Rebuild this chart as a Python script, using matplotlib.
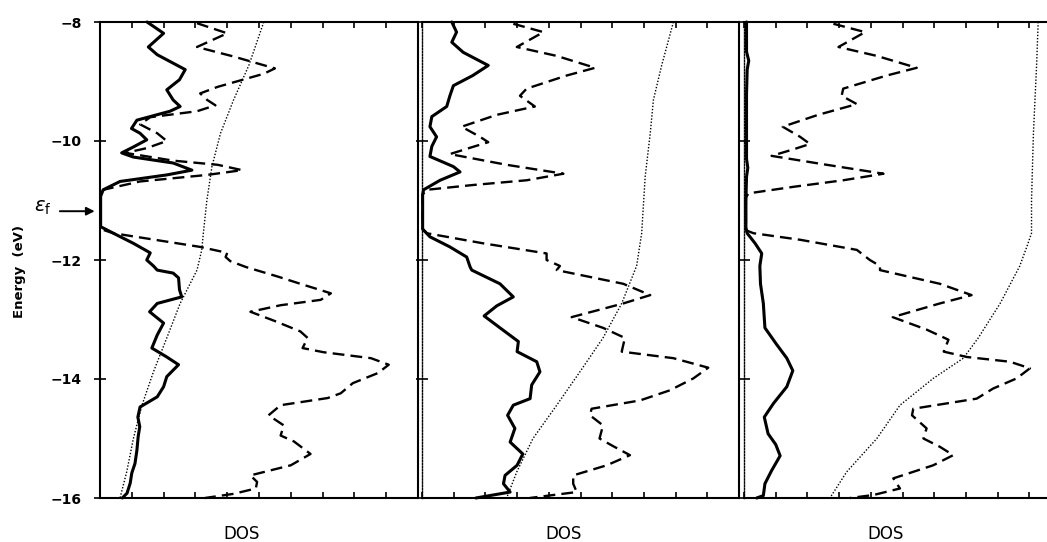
import matplotlib
matplotlib.use("Agg")
import matplotlib.pyplot as plt

plt.rcParams["font.family"] = ["DejaVu Sans"]
plt.rcParams["mathtext.fontset"] = "dejavusans"

# energy axis (eV)
energy_ticks = [-8, -10, -12, -14, -16]
e_fermi = -11.18

# ---- panel 1 ----
p1_solid_e = [-8.0, -8.19, -8.42, -8.55, -8.8, -8.97, -9.14, -9.31, -9.42, -9.5, -9.65, -9.79,
              -9.87, -9.98, -10.1, -10.2, -10.27, -10.37, -10.49, -10.57, -10.68, -10.82, -10.93,
              -11.44, -11.55, -11.72, -11.88, -12.0, -12.1, -12.17, -12.22, -12.3, -12.5, -12.62,
              -12.73, -12.87, -13.06, -13.26, -13.48, -13.63, -13.76, -13.96, -14.13, -14.3,
              -14.47, -14.64, -14.8, -14.97, -15.2, -15.42, -15.58, -15.75, -15.92, -16.0]
p1_solid_dos = [1.48, 2.0, 1.52, 1.8, 2.68, 2.5, 2.1, 2.3, 2.52, 2.2, 1.16, 0.99,
                1.26, 1.47, 1.05, 0.68, 1.05, 2.3, 2.89, 2.1, 0.63, 0.1, 0.02,
                0.02, 0.42, 1.05, 1.58, 1.47, 1.68, 1.8, 2.3, 2.47, 2.5, 2.57,
                1.8, 1.56, 2.0, 1.8, 1.63, 2.1, 2.47, 2.1, 2.0, 1.8,
                1.26, 1.19, 1.25, 1.2, 1.16, 1.1, 1.0, 0.95, 0.85, 0.7]

p1_dash_e = [-8.02, -8.19, -8.42, -8.58, -8.78, -8.87, -9.09, -9.2, -9.31, -9.4, -9.5, -9.6,
             -9.72, -9.87, -10.0, -10.12, -10.2, -10.33, -10.4, -10.49, -10.57, -10.68, -10.82,
             -10.9, -11.48, -11.55, -11.78, -11.88, -11.95, -12.02, -12.12, -12.28, -12.4,
             -12.56, -12.67, -12.76, -12.87, -13.02, -13.2, -13.31, -13.48, -13.55, -13.65,
             -13.76, -13.9, -14.07, -14.24, -14.32, -14.44, -14.61, -14.78, -14.95, -15.05,
             -15.26, -15.45, -15.62, -15.73, -15.84, -15.93, -16.0]
p1_dash_dos = [3.05, 4.0, 3.05, 4.2, 5.5, 5.15, 3.7, 3.15, 3.37, 3.63, 3.05, 1.58,
               1.26, 1.8, 2.1, 1.47, 0.8, 2.3, 3.7, 4.47, 3.37, 1.26, 0.1,
               0.02, 0.02, 0.42, 3.15, 4.0, 3.95, 4.1, 4.6, 5.6, 6.3,
               7.26, 6.94, 5.68, 4.73, 5.47, 6.3, 6.53, 6.37, 7.03, 8.52,
               9.08, 8.74, 7.95, 7.57, 7.16, 5.68, 5.3, 5.78, 5.68, 6.1,
               6.62, 6.0, 4.73, 4.94, 4.9, 4.2, 3.3]

p1_dot_e = [-8.0, -8.73, -9.31, -9.87, -10.43, -11.0, -11.55, -11.83, -12.17, -12.73, -13.31,
            -13.88, -14.44, -15.0, -15.56, -16.0]
p1_dot_dos = [5.15, 4.68, 4.2, 3.79, 3.52, 3.36, 3.25, 3.2, 3.05, 2.52, 2.1,
              1.68, 1.32, 1.05, 0.84, 0.63]

# ---- panel 2 ----
p2_solid_e = [-8.0, -8.17, -8.34, -8.51, -8.73, -8.9, -9.07, -9.24, -9.42, -9.59, -9.76, -9.93,
              -10.09, -10.26, -10.43, -10.52, -10.66, -10.82, -10.9, -11.48, -11.61, -11.78,
              -11.95, -12.12, -12.17, -12.4, -12.62, -12.77, -12.94, -13.14, -13.37, -13.54,
              -13.71, -13.88, -14.1, -14.33, -14.44, -14.61, -14.83, -15.06, -15.26, -15.45,
              -15.62, -15.76, -15.9, -16.0]
p2_solid_dos = [0.94, 1.09, 0.94, 1.3, 2.09, 1.6, 0.99, 0.88, 0.78, 0.31, 0.25, 0.46,
                0.31, 0.25, 0.99, 1.2, 0.57, 0.05, 0.02, 0.02, 0.25, 0.88,
                1.41, 1.52, 1.57, 2.46, 2.88, 2.36, 1.96, 2.46, 3.04, 3.0,
                3.62, 3.72, 3.46, 3.41, 2.88, 2.7, 2.93, 2.78, 3.18, 3.0,
                2.62, 2.57, 2.78, 1.7]

p2_dash_e = [-8.03, -8.17, -8.42, -8.57, -8.77, -8.9, -9.12, -9.24, -9.42, -9.56, -9.76, -9.93,
             -10.02, -10.1, -10.22, -10.4, -10.55, -10.66, -10.74, -10.82, -10.9, -11.48,
             -11.55, -11.72, -11.89, -12.0, -12.1, -12.17, -12.4, -12.59, -12.73, -12.96,
             -13.14, -13.31, -13.54, -13.65, -13.81, -13.99, -14.19, -14.36, -14.5, -14.61,
             -14.78, -15.0, -15.12, -15.28, -15.45, -15.62, -15.76, -15.9, -16.0]
p2_dash_dos = [2.88, 3.83, 2.99, 4.25, 5.46, 4.56, 3.3, 3.09, 3.56, 2.36, 1.25, 1.83,
               2.09, 1.6, 0.88, 2.67, 4.46, 3.3, 1.6, 0.15, 0.02, 0.02,
               0.15, 1.93, 3.93, 3.93, 4.35, 4.25, 6.35, 7.2, 6.35, 4.72,
               5.71, 6.4, 6.3, 7.93, 9.03, 8.56, 7.82, 6.88, 5.35, 5.3,
               5.71, 5.6, 6.0, 6.56, 5.83, 4.77, 4.77, 4.88, 3.4]

p2_dot_e = [-8.0, -8.73, -9.31, -9.87, -10.6, -11.55, -12.1, -12.73, -13.31, -13.88, -14.44,
            -15.0, -15.56, -16.0]
p2_dot_dos = [7.93, 7.56, 7.3, 7.2, 7.04, 6.93, 6.77, 6.3, 5.71, 4.98, 4.25,
              3.5, 2.99, 2.67]

# ---- panel 3 ----
p3_solid_e = [-8.0, -8.5, -8.65, -8.8, -9.2, -9.8, -10.3, -10.45, -10.6, -11.0, -11.45, -11.55,
              -11.72, -11.89, -12.1, -12.4, -12.73, -13.14, -13.42, -13.65, -13.86, -14.13,
              -14.41, -14.64, -14.92, -15.1, -15.29, -15.54, -15.76, -15.96, -16.0]
p3_solid_dos = [0.08, 0.08, 0.15, 0.1, 0.08, 0.08, 0.08, 0.12, 0.08, 0.06, 0.06, 0.1,
                0.35, 0.56, 0.5, 0.52, 0.61, 0.66, 1.03, 1.35, 1.54, 1.35,
                0.93, 0.64, 0.76, 1.0, 1.14, 0.87, 0.66, 0.61, 0.4]

p3_dash_e = [-8.03, -8.17, -8.42, -8.57, -8.77, -8.9, -9.12, -9.24, -9.38, -9.56, -9.76, -9.93,
             -10.05, -10.14, -10.25, -10.4, -10.55, -10.66, -10.77, -10.88, -10.95, -11.5,
             -11.55, -11.66, -11.83, -12.0, -12.1, -12.17, -12.4, -12.59, -12.73, -12.96,
             -13.17, -13.34, -13.54, -13.63, -13.71, -13.82, -13.99, -14.16, -14.33, -14.5,
             -14.61, -14.83, -15.0, -15.14, -15.28, -15.45, -15.67, -15.84, -15.95, -16.0]
p3_dash_dos = [2.82, 3.82, 2.98, 4.19, 5.45, 4.5, 3.13, 3.08, 3.56, 2.34, 1.22, 1.77,
               2.08, 1.56, 0.87, 2.61, 4.4, 3.13, 1.56, 0.14, 0.06, 0.06,
               0.3, 1.77, 3.56, 3.97, 4.29, 4.29, 6.18, 7.18, 6.18, 4.69,
               5.76, 6.45, 6.3, 7.03, 8.39, 9.02, 8.6, 7.86, 7.34, 5.34,
               5.3, 5.76, 5.66, 6.18, 6.6, 5.97, 4.71, 4.92, 4.08, 3.34]

p3_dot_e = [-8.0, -8.73, -9.87, -11.0, -11.55, -11.78, -12.1, -12.73, -13.31, -13.65, -13.99,
            -14.44, -15.0, -15.56, -16.0]
p3_dot_dos = [9.28, 9.23, 9.13, 9.07, 9.07, 8.92, 8.7, 8.08, 7.39, 6.92, 5.97,
              4.92, 4.19, 3.24, 2.71]

panels = [
    (p1_solid_e, p1_solid_dos, p1_dash_e, p1_dash_dos, p1_dot_e, p1_dot_dos),
    (p2_solid_e, p2_solid_dos, p2_dash_e, p2_dash_dos, p2_dot_e, p2_dot_dos),
    (p3_solid_e, p3_solid_dos, p3_dash_e, p3_dash_dos, p3_dot_e, p3_dot_dos),
]

W, H = 1047, 542
fig = plt.figure(figsize=(W / 100, H / 100), dpi=100)
fig.patch.set_facecolor("white")

lefts = [100, 422, 744]
widths = [318, 317, 317]
label_x = [242, 564, 886]

axes = []
for i, (se, sd, de, dd, te, td) in enumerate(panels):
    ax = fig.add_axes([lefts[i] / W, 44 / H, widths[i] / W, 476 / H])
    ax.set_xlim(0, 10)
    ax.set_ylim(-16, -8)

    ax.plot(sd, se, color="black", lw=2.2, solid_capstyle="round", solid_joinstyle="round",
            clip_on=False, zorder=4)
    ax.plot(dd, de, color="black", lw=1.7, dashes=(5, 2.6), dash_joinstyle="round",
            clip_on=False, zorder=3)
    ax.plot(td, te, color="black", lw=1.0, dashes=(1, 1.3), zorder=2)

    for side in ["top", "bottom", "right", "left"]:
        ax.spines[side].set_linewidth(1.5)
    if i > 0:
        ax.spines["left"].set_linestyle((0, (1, 1.2)))
        ax.spines["left"].set_linewidth(1.0)

    ax.set_xticks(range(0, 11))
    ax.tick_params(axis="x", direction="in", top=True, bottom=True, length=4, width=1.2,
                   labelbottom=False)
    ax.set_yticks(energy_ticks)
    ax.tick_params(axis="y", direction="inout", length=8, width=1.2, right=False,
                   labelleft=(i == 0), labelsize=10, pad=9)
    if i == 0:
        for lab in ax.get_yticklabels():
            lab.set_fontweight("bold")
    fig.text(label_x[i] / W, 1 - 534 / H, "DOS", ha="center", va="center", fontsize=12)
    axes.append(ax)

ax1 = axes[0]
ax1.annotate("", xy=(-0.008, e_fermi), xycoords=("axes fraction", "data"),
             xytext=(-0.135, e_fermi), textcoords=("axes fraction", "data"),
             arrowprops=dict(arrowstyle="-|>", lw=1.4, color="black", mutation_scale=12))
ax1.text(-0.18, e_fermi + 0.06, r"$\varepsilon_{\mathrm{f}}$", transform=ax1.get_yaxis_transform(),
         ha="center", va="center", fontsize=14)

fig.text(20 / W, 1 - 272 / H, "Energy  (eV)", rotation=90, ha="center", va="center",
         fontsize=9.5, fontweight="bold")

fig.savefig("out.png", dpi=100, facecolor="white")
